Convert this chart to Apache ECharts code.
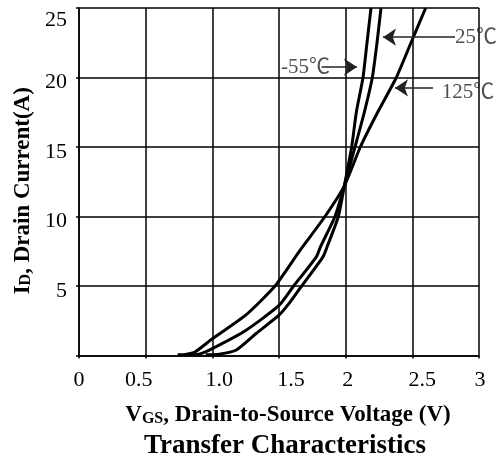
<!DOCTYPE html>
<html>
<head>
<meta charset="utf-8">
<script src="https://cdn.jsdelivr.net/npm/echarts@6/dist/echarts.min.js"></script>
<style>html,body{margin:0;padding:0;background:#fff}#c{width:501px;height:461px}</style>
</head>
<body>
<div id="c"></div>
<script>
// ---- data ----
var xTickLabels = ['0', '0.5', '1.0', '1.5', '2', '2.5', '3'];
var yTickLabels = ['', '5', '10', '15', '20', '25'];
var seriesNames = ['125℃', '25℃', '-55℃'];
var curve125 = [[0.74,0.05],[0.8,0.08],[0.87,0.25],[1.0,1.2],[1.25,2.9],[1.47,5.0],[1.66,7.6],[1.845,10],[1.99,12.2],[2.11,15],[2.24,17.5],[2.38,20],[2.49,22.5],[2.6,25]];
var curve25 = [[0.82,0.05],[0.9,0.1],[1.0,0.5],[1.25,1.8],[1.5,3.6],[1.61,5.0],[1.78,7.1],[1.81,7.8],[1.92,10],[1.99,12.2],[2.07,15],[2.14,17.5],[2.2,20],[2.235,22.5],[2.265,25]];
var curveM55 = [[0.95,0.05],[1.05,0.1],[1.18,0.4],[1.33,1.6],[1.5,2.9],[1.58,3.8],[1.67,5.0],[1.83,7.1],[1.86,7.8],[1.945,10],[1.99,12.2],[2.045,15],[2.08,17.5],[2.13,20],[2.16,22.5],[2.19,25]];
// annotation labels: [text anchor (left-middle)], arrows [from, to]
var annotLabels = ['25℃', '-55℃', '125℃'];
var annotTextAt = [[2.82,22.9],[1.515,20.75],[2.72,18.9]];
var annotArrowFrom = [[2.82,22.9],[1.82,20.75],[2.655,19.25]];
var annotArrowTo = [[2.28,22.9],[2.085,20.75],[2.37,19.25]];

var SERIF = '"Liberation Serif", "Times New Roman", serif';
var chart = echarts.init(document.getElementById('c'));

var xLabelRich = {
  '0': {}, '0.5': {padding:[0,14,0,0]}, '1.0': {padding:[0,0,0,14]}, '1.5': {padding:[0,0,0,24]},
  '2': {padding:[0,0,0,4]}, '2.5': {padding:[0,0,0,20]}, '3': {padding:[0,0,0,2]}
};
var richX = {};
xTickLabels.forEach(function (t, i) {
  richX['x' + i] = Object.assign({fontFamily: SERIF, fontSize: 22, color: '#000'}, xLabelRich[t]);
});

var lineStyleCurve = {color: '#000', width: 3};
var mkCurve = function (name, data) {
  return {name: name, type: 'line', data: data, showSymbol: false, smooth: 0.2,
    lineStyle: lineStyleCurve, itemStyle: {color: '#000'}, z: 3};
};

chart.setOption({
  animation: false,
  backgroundColor: '#fff',
  title: {
    text: 'Transfer Characteristics', left: 280, top: 428, textAlign: 'center',
    textStyle: {fontFamily: SERIF, fontSize: 27, fontWeight: 'bold', color: '#000'}
  },
  grid: {left: 79, top: 8, width: 400, height: 347.5},
  xAxis: {
    type: 'value', min: 0, max: 3, interval: 0.5,
    name: '{b|V}{s|GS}{b|, Drain-to-Source Voltage (V)}',
    nameLocation: 'middle', nameGap: 45,
    nameTextStyle: {
      padding: [0, 0, 0, 18],
      rich: {
        b: {fontFamily: SERIF, fontSize: 23, fontWeight: 'bold', color: '#000', lineHeight: 26, verticalAlign: 'bottom'},
        s: {fontFamily: SERIF, fontSize: 16, fontWeight: 'bold', color: '#000', lineHeight: 22, verticalAlign: 'bottom'}
      }
    },
    axisLine: {lineStyle: {color: '#000', width: 1.5}},
    axisTick: {show: true, length: 3, lineStyle: {color: '#000', width: 1.5}},
    splitLine: {show: true, lineStyle: {color: '#000', width: 1.5}},
    axisLabel: {
      margin: 14,
      formatter: function (v) { var i = Math.round(v / 0.5); return '{x' + i + '|' + xTickLabels[i] + '}'; },
      rich: richX
    }
  },
  yAxis: {
    type: 'value', min: 0, max: 25, interval: 5,
    name: '{b|I}{s|D}{b|, Drain Current(A)}',
    nameLocation: 'middle', nameGap: 44,
    nameTextStyle: {
      padding: [0, 18, 0, 0],
      rich: {
        b: {fontFamily: SERIF, fontSize: 23, fontWeight: 'bold', color: '#000', lineHeight: 26, verticalAlign: 'bottom'},
        s: {fontFamily: SERIF, fontSize: 16, fontWeight: 'bold', color: '#000', lineHeight: 22, verticalAlign: 'bottom'}
      }
    },
    axisLine: {lineStyle: {color: '#000', width: 1.5}},
    axisTick: {show: true, length: 3, lineStyle: {color: '#000', width: 1.5}},
    splitLine: {show: true, lineStyle: {color: '#000', width: 1.5}},
    axisLabel: {
      margin: 12,
      formatter: function (v) {
        var i = Math.round(v / 5); var t = yTickLabels[i];
        if (!t) return '';
        return (i === 5 ? '{t|' : '{n|') + t + '}';
      },
      rich: {
        n: {fontFamily: SERIF, fontSize: 22, color: '#000', padding: [10, 0, 0, 0]},
        t: {fontFamily: SERIF, fontSize: 22, color: '#000', padding: [24, 0, 0, 0]}
      }
    }
  },
  series: [
    mkCurve(seriesNames[0], curve125),
    mkCurve(seriesNames[1], curve25),
    mkCurve(seriesNames[2], curveM55),
    {
      type: 'scatter', symbolSize: 0, silent: true, z: 5,
      data: annotTextAt.map(function (p, i) { return {value: p, name: annotLabels[i]}; }),
      label: {
        show: true, position: 'right', distance: 0, formatter: '{b}',
        fontFamily: '"Liberation Serif", "Noto Sans CJK SC", serif', fontSize: 21, color: '#222'
      }
    },
    {
      type: 'line', data: [], silent: true, z: 4,
      markLine: {
        silent: true, symbol: ['none', 'arrow'], symbolSize: 13,
        label: {show: false},
        lineStyle: {color: '#222', width: 1.5, type: 'solid'},
        data: annotArrowFrom.map(function (p, i) { return [{coord: p}, {coord: annotArrowTo[i]}]; })
      }
    }
  ]
});
</script>
</body>
</html>
